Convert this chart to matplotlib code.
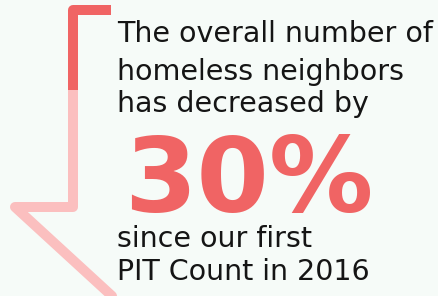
import matplotlib
matplotlib.use("Agg")
import matplotlib.pyplot as plt

# ---- data ----
headline_lines = ["The overall number of", "homeless neighbors", "has decreased by"]
percent_change = 30
footer_lines = ["since our first", "PIT Count in 2016"]

# arrow path (pixel coordinates, y down)
arrow_dark_x = [111, 73, 73]
arrow_dark_y = [10, 10, 90]
arrow_light_x = [73, 73, 15, 112]
arrow_light_y = [90, 207, 207, 296]

BG = "#f6fbf8"
RED = "#f06464"
PINK = "#fbbfbf"
INK = "#151515"

W, H = 438, 296
fig = plt.figure(figsize=(W / 100, H / 100), dpi=100, facecolor=BG)
ax = fig.add_axes([0, 0, 1, 1])
ax.set_xlim(0, W)
ax.set_ylim(H, 0)
ax.axis("off")
ax.set_facecolor(BG)

lw = 10 * 72 / 100
ax.plot(arrow_light_x, arrow_light_y, color=PINK, lw=lw,
        solid_capstyle="round", solid_joinstyle="round")
ax.plot(arrow_dark_x, arrow_dark_y, color=RED, lw=lw,
        solid_capstyle="butt", solid_joinstyle="round")

fam = ["DejaVu Sans"]
fs = 20.5
head_baselines = [42, 80, 112]
for txt, yb in zip(headline_lines, head_baselines):
    ax.text(117, yb, txt, fontsize=fs, color=INK, va="baseline", ha="left",
            family=fam)

ax.text(124, 212, f"{percent_change}%", fontsize=75, color=RED, va="baseline",
        ha="left", family=fam, fontweight="bold")

foot_baselines = [247, 280]
for txt, yb in zip(footer_lines, foot_baselines):
    ax.text(117, yb, txt, fontsize=fs, color=INK, va="baseline", ha="left",
            family=fam)

fig.savefig("out.png", dpi=100, facecolor=BG)
